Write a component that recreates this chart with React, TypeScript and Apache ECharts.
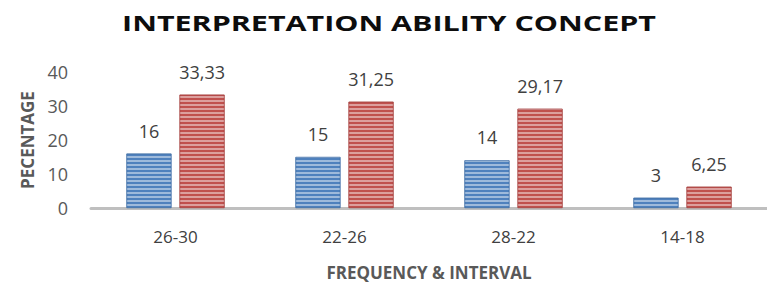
import React, { useEffect, useRef } from "react";
import * as echarts from "echarts";

const categories = ["26-30", "22-26", "28-22", "14-18"];
const frequency = [16, 15, 14, 3];
const percentage = [33.33, 31.25, 29.17, 6.25];
const yTicks = [0, 10, 20, 30, 40];
const titleText = "INTERPRETATION ABILITY CONCEPT";

const fmt = (v: number) => String(v).replace(".", ",");

export default function App() {
  const ref = useRef<HTMLDivElement>(null);
  useEffect(() => {
    const chart = echarts.init(ref.current!, null, { renderer: "svg" });
    const font = "'Open Sans', 'Noto Sans', sans-serif";
    const stripe = (color: string) => ({
      color,
      symbol: "rect",
      symbolSize: 1,
      dashArrayX: [1, 0],
      dashArrayY: [2, 2],
      rotation: 0,
    });
    chart.setOption({
      animation: false,
      backgroundColor: "#ffffff",
      graphic: [
        {
          type: "text",
          x: 389,
          y: 23,
          scaleX: 1.45,
          style: {
            text: titleText,
            fontFamily: font,
            fontWeight: "bold",
            fontSize: 21,
            fill: "#0d0d0d",
            textAlign: "center",
            textVerticalAlign: "middle",
          },
        },
      ],
      grid: { left: 91, right: 0, top: 72, bottom: 80 },
      xAxis: {
        type: "category",
        data: categories,
        name: "FREQUENCY & INTERVAL",
        nameLocation: "middle",
        nameGap: 56,
        nameTextStyle: {
          fontFamily: font,
          fontWeight: "bold",
          fontSize: 17,
          color: "#595959",
        },
        axisLine: { lineStyle: { color: "#bfbfbf", width: 3 } },
        axisTick: { show: false },
        axisLabel: {
          fontFamily: font,
          fontSize: 17,
          color: "#404040",
          margin: 20,
        },
      },
      yAxis: {
        type: "value",
        min: 0,
        max: 40,
        interval: 10,
        name: "PECENTAGE",
        nameLocation: "middle",
        nameGap: 55,
        nameRotate: 90,
        nameTextStyle: {
          fontFamily: font,
          fontWeight: "bold",
          fontSize: 17,
          color: "#595959",
        },
        axisLine: { show: false },
        axisTick: { show: false },
        splitLine: { show: false },
        axisLabel: {
          fontFamily: font,
          fontSize: 18,
          color: "#595959",
          margin: 23,
          formatter: (v: number) => (yTicks.includes(v) ? String(v) : ""),
        },
      },
      series: [
        {
          name: "Frequency",
          type: "bar",
          data: frequency,
          barWidth: 45,
          barGap: "18%",
          itemStyle: {
            color: "#4f81bd",
            borderColor: "#4572a8",
            borderWidth: 0.6,
            decal: stripe("rgba(255,255,255,0.45)"),
          },
          label: {
            show: true,
            position: "top",
            distance: 14,
            fontFamily: font,
            fontSize: 18,
            color: "#404040",
            formatter: (p: any) => fmt(p.value),
          },
        },
        {
          name: "Percentage",
          type: "bar",
          data: percentage,
          barWidth: 45,
          itemStyle: {
            color: "#c0504d",
            borderColor: "#a84744",
            borderWidth: 0.6,
            decal: stripe("rgba(255,255,255,0.45)"),
          },
          label: {
            show: true,
            position: "top",
            distance: 14,
            fontFamily: font,
            fontSize: 18,
            color: "#404040",
            formatter: (p: any) => fmt(p.value),
          },
        },
      ],
    });
    return () => chart.dispose();
  }, []);
  return <div ref={ref} style={{ width: 767, height: 288, position: "absolute", left: 0, top: 0 }} />;
}
